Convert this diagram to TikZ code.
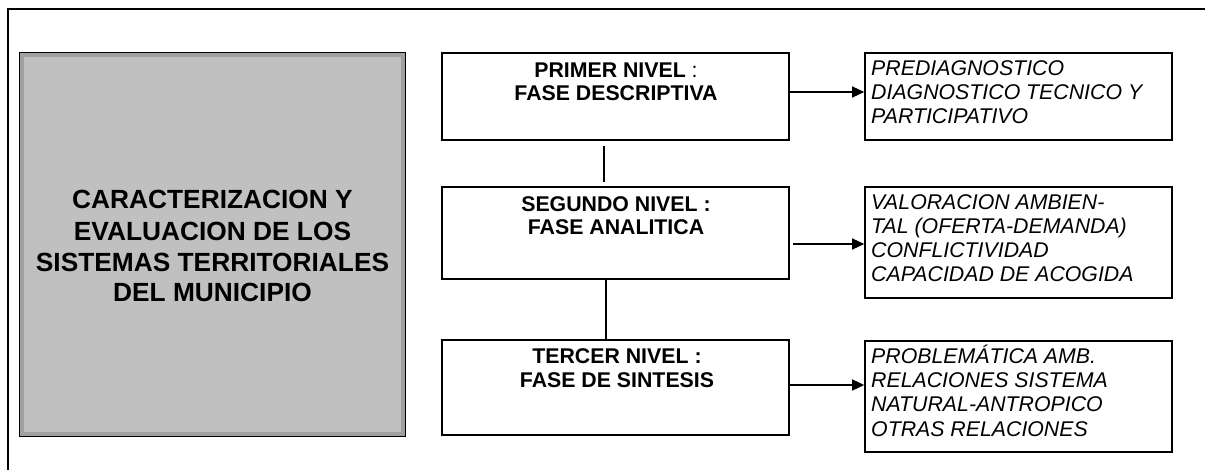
\documentclass[tikz,border=0pt]{standalone}
\usepackage{fontspec}
\setmainfont{Liberation Sans}
\usetikzlibrary{arrows.meta}
\definecolor{boxgray}{HTML}{C0C0C0}
\definecolor{bandgray}{HTML}{A0A0A0}
\tikzset{
  frame/.style={line width=2pt, line cap=rect},
  graybox/.style={draw=black, fill=boxgray, line width=1.8pt, inner sep=0pt},
  levelbox/.style={draw=black, line width=1.6pt, inner sep=0pt, minimum width=347pt},
  resbox/.style={draw=black, line width=1.6pt, inner sep=0pt, minimum width=307pt},
  bigtext/.style={font=\fontsize{26.3}{31}\selectfont\bfseries, align=center, inner sep=0pt},
  leveltext/.style={font=\fontsize{21.3}{23.5}\selectfont\bfseries, align=center, inner sep=0pt},
  restext/.style={font=\fontsize{21.3}{24.3}\selectfont\itshape, align=left, inner sep=0pt},
  link/.style={line width=1.3pt},
  arrow/.style={line width=1.3pt, -{Triangle[length=12pt,width=11pt]}}
}
\begin{document}
\begin{tikzpicture}[x=1pt,y=-1pt]
\useasboundingbox (0,0) rectangle (1205,470);
% outer frame
\coordinate (fl) at (8,470);
\coordinate (fc) at (8,9);
\coordinate (fr) at (1205,9);
\draw[frame] (fl) -- (fc) -- (fr);
% gray box
\node[graybox, minimum width=385pt, minimum height=383pt] (g) at (212.5,244.5) {};
\draw[bandgray, line width=4pt] ([shift={(3.2,3.2)}]g.north west) rectangle ([shift={(-3.2,-3.2)}]g.south east);
\node[bigtext, anchor=base] (gt) at (212.5,302) {CARACTERIZACION Y\\EVALUACION DE LOS\\SISTEMAS TERRITORIALES\\DEL MUNICIPIO};
% level boxes
\node[levelbox, minimum height=87pt] (b1) at (615.5,96.5) {};
\node[levelbox, minimum height=92pt] (b2) at (615.5,233) {};
\node[levelbox, minimum height=95pt] (b3) at (615.5,387.5) {};
\node[leveltext, anchor=base] (t1) at (616,101) {PRIMER NIVEL\mdseries{} :\\FASE DESCRIPTIVA};
\node[leveltext, anchor=base] (t2) at (616,235) {SEGUNDO NIVEL :\\FASE ANALITICA};
\node[leveltext, anchor=base] (t3) at (617,387) {TERCER NIVEL :\\FASE DE SINTESIS};
% result boxes
\node[resbox, minimum height=87pt] (r1) at (1018.5,96.5) {};
\node[resbox, minimum height=111pt] (r2) at (1018.5,242.5) {};
\node[resbox, minimum height=111pt] (r3) at (1018.5,396.5) {};
\node[restext, anchor=base west] (s1) at (871,124) {PREDIAGNOSTICO\\DIAGNOSTICO TECNICO Y\\PARTICIPATIVO};
\node[restext, anchor=base west] (s2) at (871,282) {VALORACION AMBIEN-\\TAL (OFERTA-DEMANDA)\\CONFLICTIVIDAD\\CAPACIDAD DE ACOGIDA};
\node[restext, anchor=base west] (s3) at (871,436) {PROBLEMÁTICA AMB.\\RELACIONES SISTEMA\\NATURAL-ANTROPICO\\OTRAS RELACIONES};
% vertical links
\draw[link, shorten <=5pt, shorten >=4pt] ([xshift=-11.5pt]b1.south) -- ([xshift=-11.5pt]b2.north);
\draw[link] ([xshift=-9.5pt]b2.south) -- ([xshift=-9.5pt]b3.north);
% arrows
\draw[arrow] (b1.east |- 0,92) -- (r1.west |- 0,92);
\draw[arrow, shorten <=3pt] (b2.east |- 0,244) -- (r2.west |- 0,244);
\draw[arrow] (b3.east |- 0,385) -- (r3.west |- 0,385);
\end{tikzpicture}
\end{document}
